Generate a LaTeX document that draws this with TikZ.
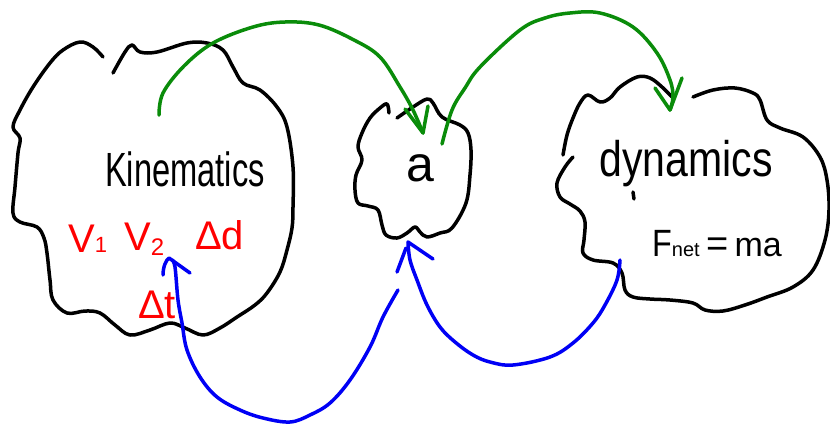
\documentclass[tikz,border=0pt]{standalone}
\usepackage{fontspec}
\setmainfont{Liberation Sans}
\usepackage{graphicx}
\definecolor{pgreen}{RGB}{10,140,10}
\definecolor{pblue}{RGB}{0,0,245}
\definecolor{pred}{RGB}{255,0,0}
\begin{document}
\begin{tikzpicture}[x=1pt,y=-1pt,
  blob/.style={draw=black,line width=3.5pt,line cap=round,line join=round},
  garrow/.style={draw=pgreen,line width=3.5pt,line cap=round,line join=round},
  barrow/.style={draw=pblue,line width=3.5pt,line cap=round,line join=round},
  word/.style={inner sep=0pt,anchor=base},
  redword/.style={inner sep=0pt,anchor=base west,text=pred,font=\fontsize{40}{40}\selectfont}]
\useasboundingbox[fill=white] (0,0) rectangle (830,424);

% ---- blobs ----
\draw[blob] plot[smooth,tension=0.6] coordinates {
 (103,57) (93,47) (80,42) (63,50) (50,63) (33,87) (20,110) (13,127) (20,138) (18,153)
 (15,187) (13,213) (20,222) (37,227) (44,238) (47,253) (50,280) (53,300) (67,313)
 (85,311) (100,313) (115,325) (130,335) (150,330) (170,323) (185,328) (203,335)
 (220,328) (237,317) (255,305) (267,293) (280,272) (287,250) (292,228) (293,207)
 (293,167) (287,127) (277,107) (260,90) (243,83) (233,67) (223,50) (207,43) (187,43)
 (157,52) (140,52) (132,45) (125,52) (113,73)};

\draw[blob] plot[smooth,tension=0.6] coordinates {
 (397,118) (413,107) (427,99) (433,103) (442,117) (460,125) (468,133) (471,150)
 (470,175) (466,203) (452,228) (440,233) (427,237) (420,232) (415,227) (407,233)
 (397,238) (386,235) (382,225) (378,210) (368,206) (358,203) (355,190) (356,175)
 (362,160) (358,147) (362,133) (370,118) (380,108) (387,104) (389,113)};

\draw[blob] plot[smooth,tension=0.6] coordinates {
 (563,155) (567,135) (573,118) (580,103) (588,95) (600,102) (610,98) (620,87)
 (637,77) (650,78) (662,87) (672,97)};
\draw[blob] plot[smooth,tension=0.6] coordinates {
 (573,157) (565,167) (557,183) (560,197) (570,204) (580,211) (585,222) (584,240)
 (583,253) (593,260) (613,263) (622,273) (625,290) (633,297) (650,299) (670,300)
 (693,303) (705,310) (723,311) (745,305) (767,297) (793,287) (813,270) (825,240)
 (829,210) (827,180) (820,157) (803,137) (780,128) (767,120) (760,100) (753,93)
 (735,88) (713,90) (693,97)};
\draw[blob] (633,192) -- (634,199);

% ---- texts ----
\node[word,font=\fontsize{48}{48}\selectfont] (kin) at (185,186) {\scalebox{0.68}[1]{Kinematics}};
\node[redword] (v1) at (68,252) {V{\fontsize{22}{22}\selectfont 1}};
\node[redword] (v2) at (124,250) {V{\fontsize{24}{24}\selectfont\raisebox{-5pt}{2}}};
\node[redword] (dd) at (195,249) {Δd};
\node[redword] (dt) at (138,318) {Δt};
\node[word,font=\fontsize{50}{50}\selectfont] (acc) at (420,181) {a};
\node[word,font=\fontsize{50}{50}\selectfont] (dyn) at (686,176) {\scalebox{0.82}[1]{dynamics}};
\node[inner sep=0pt,anchor=base west,font=\fontsize{38}{38}\selectfont] (newton) at (652,256)
 {\scalebox{0.85}[1]{F}{\fontsize{20}{20}\selectfont net}\,=\,{\fontsize{34}{34}\selectfont ma}};

% ---- green arrows: kinematics -> a -> dynamics ----
\coordinate (g1s) at (159,115);
\coordinate (g1t) at (423,133);
\draw[garrow] plot[smooth,tension=0.6] coordinates {
 (g1s) (163,93) (184,66) (213,43) (253,27) (285,22) (319,25) (354,40)
 (380,57) (400,87) (413,110) (g1t)};
\draw[garrow] (g1t) ++(-18,-24) -- (g1t) -- ++(5,-27);

\coordinate (g2s) at (442,144);
\coordinate (g2t) at (670,110);
\draw[garrow] plot[smooth,tension=0.6] coordinates {
 (g2s) (452,110) (465,88) (480,67) (520,30) (545,18) (570,13) (600,13) (633,27)
 (657,53) (670,80) (673,97) (g2t)};
\draw[garrow] (g2t) ++(-15,-22) -- (g2t) -- ++(12,-32);

% ---- blue arrows: dynamics -> a -> kinematics ----
\coordinate (b1s) at (620,260);
\coordinate (b1t) at (408,242);
\draw[barrow] plot[smooth,tension=0.6] coordinates {
 (b1s) (617,280) (605,305) (593,323) (573,343) (550,357) (513,365) (490,362)
 (473,355) (455,342) (440,327) (427,305) (417,280) (410,260) (b1t)};
\draw[barrow] (b1t) ++(-11,30) -- ++(9,-24);
\draw[barrow] (b1t) -- ++(25,17);

\coordinate (b2s) at (398,290);
\coordinate (b2t) at (169,258);
\draw[barrow] plot[smooth,tension=0.6] coordinates {
 (b2s) (383,317) (370,347) (350,380) (330,403) (310,415) (290,422) (263,418)
 (240,410) (217,397) (200,377) (187,350) (182,323) (178,300) (175,267) (172,260)};
\draw[barrow] (b2t) ++(-6,17) .. controls ++(0,-8) and ++(-3,2) .. (b2t) -- ++(21,15);
\end{tikzpicture}
\end{document}
